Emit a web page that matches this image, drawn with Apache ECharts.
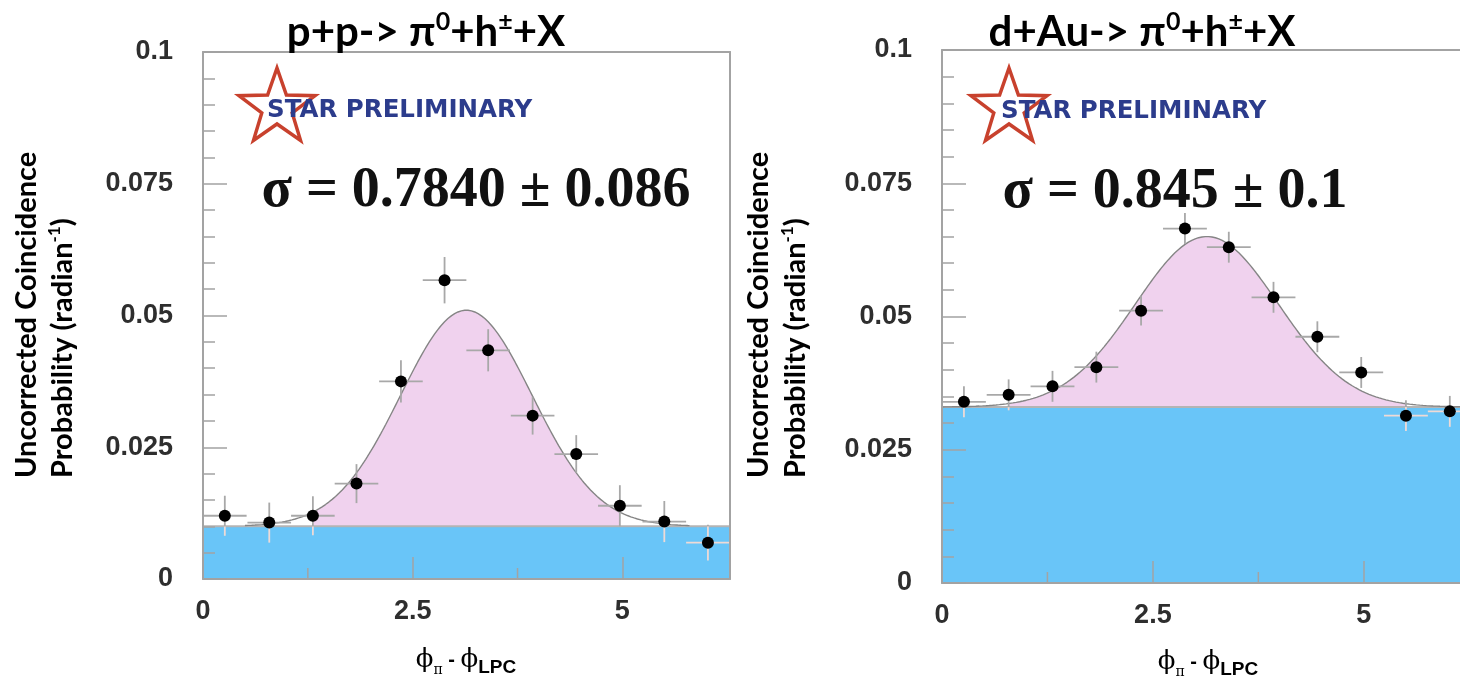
<!DOCTYPE html>
<html>
<head>
<meta charset="utf-8">
<script src="https://cdn.jsdelivr.net/npm/echarts@6/dist/echarts.min.js"></script>
<style>
  html, body { margin: 0; padding: 0; background: #ffffff; overflow: hidden; }
  #chart { width: 1460px; height: 677px; }
</style>
</head>
<body>
<div id="chart"></div>
<script>
// Δφ bin centres (radians), 12 bins over 0..2π, shared by both panels
const binCenters = [0.26, 0.79, 1.31, 1.83, 2.36, 2.88, 3.40, 3.93, 4.45, 4.97, 5.50, 6.02];
const binHalfWidth = 0.26;

// p+p -> π0 + h± + X
const ppValues = [0.0120, 0.0107, 0.0120, 0.0181, 0.0375, 0.0567, 0.0434, 0.0310, 0.0237, 0.0139, 0.0109, 0.0069];
const ppErrors = [0.0038, 0.0038, 0.0037, 0.0037, 0.0040, 0.0044, 0.0040, 0.0036, 0.0036, 0.0039, 0.0039, 0.0034];
// constant + Gaussian fit
const ppFit = { base: 0.0100, amp: 0.0410, mean: 3.14, sigma: 0.784, from: 0.5, to: 5.8, fillFrom: 1.31, fillTo: 4.97 };

// d+Au -> π0 + h± + X
const dauValues = [0.0340, 0.0353, 0.0369, 0.0405, 0.0511, 0.0665, 0.0630, 0.0536, 0.0462, 0.0395, 0.0314, 0.0322];
const dauErrors = [0.0029, 0.0029, 0.0029, 0.0029, 0.0028, 0.0029, 0.0029, 0.0029, 0.0029, 0.0029, 0.0029, 0.0029];
const dauFit = { base: 0.0330, amp: 0.0320, mean: 3.14, sigma: 0.845, from: 0.0, to: 6.2832, fillFrom: 0.79, fillTo: 5.50 };

// axis ranges and ticks
const xMax = 6.2832;
const xTickStep = 2.5;
const xMinorTicks = [1.25, 3.75];
const yMax = 0.1;
const yTickStep = 0.025;

const BLUE = '#69c5f8';
const PINK = '#f0d2ee';
const FRAME = '#a3a3a3';
const ERR = '#a8a8a8';
const ERR_ON_BLUE = '#eedad6';

function gauss(fit, x) {
  return fit.base + fit.amp * Math.exp(-((x - fit.mean) ** 2) / (2 * fit.sigma * fit.sigma));
}
function fitCurve(fit, from, to) {
  const pts = [];
  const n = Math.max(2, Math.round((to - from) / 0.02));
  for (let i = 0; i <= n; i++) {
    const x = from + (to - from) * i / n;
    pts.push([x, gauss(fit, x)]);
  }
  return pts;
}

// the d+Au frame runs past the right edge of the page, so its right side is not drawn
const panels = [
  { grid: { left: 203, top: 52, width: 527, height: 527 }, values: ppValues, errors: ppErrors, fit: ppFit, rightEdge: true },
  { grid: { left: 942, top: 50, width: 530, height: 533 }, values: dauValues, errors: dauErrors, fit: dauFit, rightEdge: false }
];

const labelFont = { fontSize: 27, fontWeight: 'bold', fontFamily: 'Liberation Sans', color: '#2e2e2e' };
const frameLine = { show: true, onZero: false, lineStyle: { color: FRAME, width: 2 } };
const hidden = { show: false };

const grids = [], xAxes = [], yAxes = [], series = [];
panels.forEach((p, i) => {
  grids.push(Object.assign({ show: false, containLabel: false, outerBoundsMode: 'none' }, p.grid));
  // bottom axis with labels
  xAxes.push({
    gridIndex: i, type: 'value', position: 'bottom', min: 0, max: xMax, interval: xTickStep, z: 5,
    axisLine: frameLine,
    axisTick: { show: true, inside: true, length: 22, lineStyle: { color: FRAME, width: 1.5 } },
    minorTick: hidden, splitLine: hidden, minorSplitLine: hidden,
    axisLabel: Object.assign({
      margin: 19,
      formatter: v => (Math.abs(v / xTickStep - Math.round(v / xTickStep)) < 1e-6 ? String(+v.toFixed(2)) : '')
    }, labelFont)
  });
  // top edge of the frame
  xAxes.push({
    gridIndex: i, type: 'value', position: 'top', min: 0, max: xMax, z: 5,
    axisLine: frameLine, axisTick: hidden, axisLabel: hidden, splitLine: hidden
  });
  // left axis with labels
  yAxes.push({
    gridIndex: i, type: 'value', position: 'left', min: 0, max: yMax, interval: yTickStep, z: 5,
    axisLine: frameLine,
    axisTick: { show: true, inside: true, length: 24, lineStyle: { color: FRAME, width: 1.5 } },
    minorTick: { show: true, splitNumber: 5, length: 12, lineStyle: { color: FRAME, width: 1.5 } },
    splitLine: hidden, minorSplitLine: hidden,
    axisLabel: Object.assign({ margin: 30, formatter: v => String(+v.toFixed(3)) }, labelFont)
  });
  // right edge of the frame
  yAxes.push({
    gridIndex: i, type: 'value', position: 'right', min: 0, max: yMax, z: 5, show: p.rightEdge,
    axisLine: frameLine, axisTick: hidden, axisLabel: hidden, splitLine: hidden
  });

  const xi = 2 * i, yi = 2 * i;
  const fit = p.fit;
  // flat background (blue) and fitted peak above it (pink)
  series.push({
    type: 'custom', xAxisIndex: xi, yAxisIndex: yi, silent: true, z: 1,
    data: [[0, 0]],
    renderItem: (params, api) => {
      const bl = api.coord([0, 0]);
      const tr = api.coord([xMax, fit.base]);
      const pink = fitCurve(fit, fit.fillFrom, fit.fillTo).map(q => api.coord(q));
      pink.push(api.coord([fit.fillTo, fit.base]));
      pink.push(api.coord([fit.fillFrom, fit.base]));
      return {
        type: 'group',
        children: [
          { type: 'rect', shape: { x: bl[0], y: tr[1], width: tr[0] - bl[0], height: bl[1] - tr[1] }, style: { fill: BLUE } },
          { type: 'polygon', shape: { points: pink }, style: { fill: PINK } }
        ]
      };
    }
  });
  // short x ticks between the labelled ones
  series.push({
    type: 'custom', xAxisIndex: xi, yAxisIndex: yi, silent: true, z: 6,
    data: xMinorTicks.map(v => [v, 0]),
    renderItem: (params, api) => {
      const b = api.coord([api.value(0), 0]);
      return { type: 'line', shape: { x1: b[0], y1: b[1], x2: b[0], y2: b[1] - 11 }, style: { stroke: FRAME, lineWidth: 1.5 } };
    }
  });
  // background level
  series.push({
    type: 'line', xAxisIndex: xi, yAxisIndex: yi, silent: true, z: 2, symbol: 'none',
    data: [[0, fit.base], [xMax, fit.base]],
    lineStyle: { color: '#b4b4b4', width: 2 }
  });
  // fit curve
  series.push({
    type: 'line', xAxisIndex: xi, yAxisIndex: yi, silent: true, z: 3, symbol: 'none',
    data: fitCurve(fit, fit.from, fit.to),
    lineStyle: { color: '#858585', width: 1.4 }
  });
  // error bars
  series.push({
    type: 'custom', xAxisIndex: xi, yAxisIndex: yi, silent: true, z: 4,
    data: binCenters.map((x, k) => [x, p.values[k], p.errors[k]]),
    renderItem: (params, api) => {
      const x = api.value(0), y = api.value(1), e = api.value(2);
      const l = api.coord([x - binHalfWidth, y]);
      const r = api.coord([x + binHalfWidth, y]);
      const lo = api.coord([x, y - e]);
      const hi = api.coord([x, y + e]);
      const children = [];
      const seg = (a, b, c) => children.push({
        type: 'line', shape: { x1: a[0], y1: a[1], x2: b[0], y2: b[1] }, style: { stroke: c, lineWidth: 1.8 }
      });
      seg(l, r, y < fit.base ? ERR_ON_BLUE : ERR);
      if (y - e < fit.base && y + e > fit.base) {
        const mid = api.coord([x, fit.base]);
        seg(lo, mid, ERR_ON_BLUE);
        seg(mid, hi, ERR);
      } else {
        seg(lo, hi, y + e <= fit.base ? ERR_ON_BLUE : ERR);
      }
      return { type: 'group', children };
    }
  });
  // data points
  series.push({
    type: 'scatter', xAxisIndex: xi, yAxisIndex: yi, z: 5, symbol: 'circle', symbolSize: 12,
    itemStyle: { color: '#000000', opacity: 1 },
    data: binCenters.map((x, k) => [x, p.values[k]])
  });
});

// STAR logo outline
function starPoints(cx, cy, R, r) {
  const pts = [];
  for (let k = 0; k < 10; k++) {
    const a = -Math.PI / 2 + k * Math.PI / 5;
    const rad = k % 2 === 0 ? R : r;
    pts.push([cx + rad * Math.cos(a), cy + rad * Math.sin(a)]);
  }
  return pts;
}

const titleRich = {
  m: { fontSize: 42, fontWeight: 'bold', fontFamily: 'Lato', color: '#000', lineHeight: 46 },
  s: { fontSize: 25, fontWeight: 'bold', fontFamily: 'Lato', color: '#000', lineHeight: 25, verticalAlign: 'top' }
};
const yNameRich = {
  m: { fontSize: 29, fontWeight: 'bold', fontFamily: 'Lato', color: '#000', lineHeight: 34 },
  s: { fontSize: 17, fontWeight: 'bold', fontFamily: 'Lato', color: '#000', lineHeight: 17, verticalAlign: 'top' }
};
const xNameRich = {
  phi: { fontSize: 26, fontFamily: 'DejaVu Serif', color: '#8a8a8a', lineHeight: 34 },
  pi: { fontSize: 14, fontFamily: 'DejaVu Serif', color: '#8a8a8a', lineHeight: 14, verticalAlign: 'bottom' },
  dash: { fontSize: 20, fontFamily: 'Liberation Sans', fontWeight: 'bold', color: '#8a8a8a', lineHeight: 34 },
  lpc: { fontSize: 19, fontFamily: 'Liberation Sans', fontWeight: 'bold', color: '#8a8a8a', lineHeight: 19, verticalAlign: 'bottom' }
};
const xNameText = '{phi|ϕ}{pi|π}{dash| - }{phi|ϕ}{lpc|LPC}';

const annotations = [
  { title: '{m|p+p-> π}{s|0}{m|+h}{s|±}{m|+X}', titleX: 426, star: [277, 108], starText: [267, 111],
    sigma: 'σ = 0.7840 ± 0.086', sigmaX: 476, sigmaY: 192, yNameX: [27, 63], xNameX: 466, xNameY: 660 },
  { title: '{m|d+Au-> π}{s|0}{m|+h}{s|±}{m|+X}', titleX: 1142, star: [1009, 108], starText: [1001, 112],
    sigma: 'σ = 0.845 ± 0.1', sigmaX: 1175, sigmaY: 193, yNameX: [759, 796], xNameX: 1208, xNameY: 662 }
];

const graphic = [];
annotations.forEach(a => {
  graphic.push({ type: 'text', x: a.titleX, y: 32, z: 10,
    style: { text: a.title, rich: titleRich, align: 'center', verticalAlign: 'middle' } });
  graphic.push({ type: 'polygon', z: 10, shape: { points: starPoints(a.star[0], a.star[1], 40, 16) },
    style: { fill: 'rgba(255,255,255,0)', stroke: '#c8412d', lineWidth: 3.5, lineJoin: 'miter' } });
  graphic.push({ type: 'text', x: a.starText[0], y: a.starText[1], z: 11,
    style: { text: 'STAR PRELIMINARY', font: 'bold 24.5px "DejaVu Sans"', fill: '#2c3c8c', align: 'left', verticalAlign: 'middle' } });
  graphic.push({ type: 'text', x: a.sigmaX, y: a.sigmaY, z: 10,
    style: { text: a.sigma, font: 'bold 56px "Liberation Serif"', fill: '#111', align: 'center', verticalAlign: 'middle' } });
  graphic.push({ type: 'text', x: a.yNameX[0], y: 478, rotation: Math.PI / 2, z: 10,
    style: { text: '{m|Uncorrected Coincidence}', rich: yNameRich, align: 'left', verticalAlign: 'middle' } });
  graphic.push({ type: 'text', x: a.yNameX[1], y: 478, rotation: Math.PI / 2, z: 10,
    style: { text: '{m|Probability (radian}{s|-1}{m|)}', rich: yNameRich, align: 'left', verticalAlign: 'middle' } });
  graphic.push({ type: 'text', x: a.xNameX, y: a.xNameY, z: 10,
    style: { text: xNameText, rich: xNameRich, align: 'center', verticalAlign: 'middle' } });
});

const chart = echarts.init(document.getElementById('chart'), null, { renderer: 'canvas' });
chart.setOption({
  backgroundColor: '#ffffff',
  animation: false,
  grid: grids,
  xAxis: xAxes,
  yAxis: yAxes,
  series: series,
  graphic: graphic
});
</script>
</body>
</html>
